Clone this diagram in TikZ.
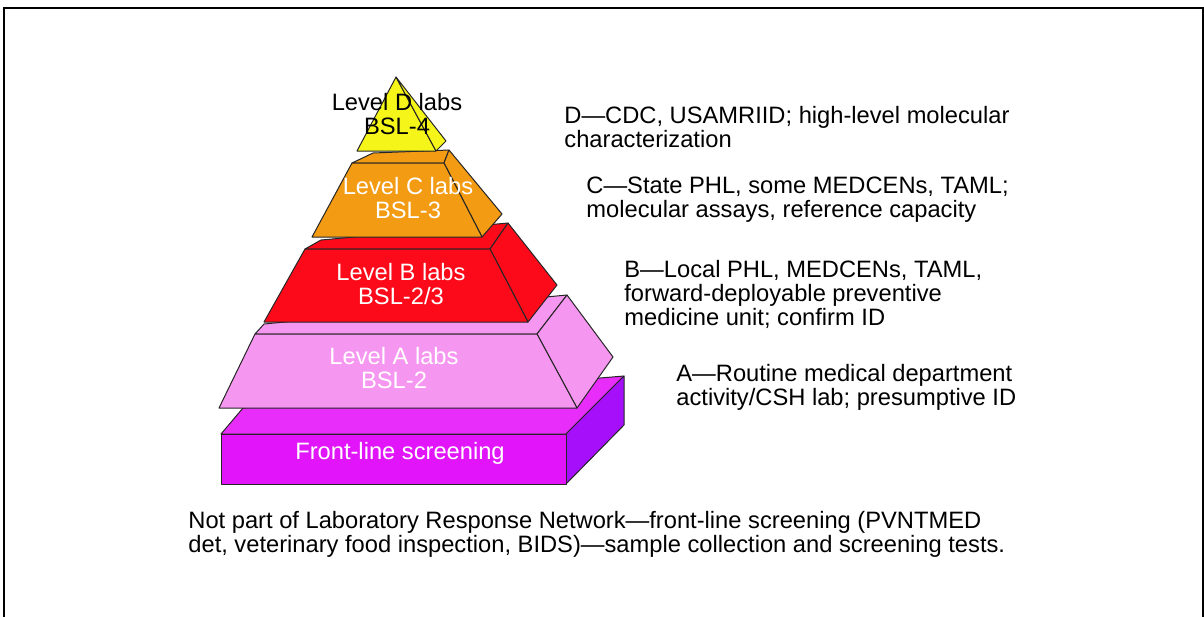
\documentclass[tikz,border=0pt]{standalone}
\usepackage{fontspec}
\setmainfont{Liberation Sans}
\definecolor{lvlD}{RGB}{245,245,25}
\definecolor{lvlC}{RGB}{243,155,18}
\definecolor{lvlB}{RGB}{252,10,25}
\definecolor{lvlA}{RGB}{245,150,240}
\definecolor{baseFront}{RGB}{225,20,250}
\definecolor{baseTop}{RGB}{232,45,250}
\definecolor{baseSide}{RGB}{165,15,250}
\begin{document}
\begin{tikzpicture}[x=0.5pt,y=-0.5pt,
		face/.style={draw=black!85,line width=0.5pt,line join=round},
		lvl/.style={align=center,text=white,inner sep=0pt,font=\fontsize{11.85}{12}\selectfont},
		note/.style={align=left,anchor=west,inner sep=0pt,font=\fontsize{11.85}{12}\selectfont}]
		\useasboundingbox (0,0) rectangle (1204,616);
		\draw[line width=1pt] (4,620) -- (4,8) -- (1203,8) -- (1203,620);
		% front-line screening block
		\draw[face,fill=baseTop] (221,434) -- (243,408) -- (624,376) -- (566,434) -- cycle;
		\draw[face,fill=baseSide] (566,434) -- (624,376) -- (624,425) -- (566,484) -- cycle;
		\draw[face,fill=baseFront] (221,434) rectangle (566,484);
		% level A
		\draw[face,fill=lvlA] (255,334) -- (264,324) -- (567,295) -- (537,334) -- cycle;
		\draw[face,fill=lvlA] (537,334) -- (567,295) -- (613,357) -- (577,408) -- cycle;
		\draw[face,fill=lvlA] (255,334) -- (537,334) -- (577,408) -- (219,408) -- cycle;
		% level B
		\draw[face,fill=lvlB] (305,249) -- (321,240) -- (508,223) -- (490,249) -- cycle;
		\draw[face,fill=lvlB] (490,249) -- (508,223) -- (557,285) -- (528,322) -- cycle;
		\draw[face,fill=lvlB] (305,249) -- (490,249) -- (528,322) -- (264,322) -- cycle;
		% level C
		\draw[face,fill=lvlC] (352,163) -- (373,153) -- (449,150) -- (444,163) -- cycle;
		\draw[face,fill=lvlC] (444,163) -- (449,150) -- (502,214) -- (482,237) -- cycle;
		\draw[face,fill=lvlC] (352,163) -- (444,163) -- (482,237) -- (312,237) -- cycle;
		% level D
		\draw[face,fill=lvlD] (396,77) -- (357,151) -- (436,151) -- cycle;
		\draw[face,fill=lvlD] (396,77) -- (436,151) -- (446,141) -- cycle;

		\node[lvl,text=black] (labD) at (397,114) {Level D labs\\BSL-4};
		\node[lvl] (labC) at (408,198) {Level C labs\\BSL-3};
		\node[lvl] (labB) at (401,284) {Level B labs\\BSL-2/3};
		\node[lvl] (labA) at (394,368) {Level A labs\\BSL-2};
		\node[lvl] (labF) at (400,453) {Front-line screening};

		\node[note] (noteD) at (564,127) {D—CDC, USAMRIID; high-level molecular\\characterization};
		\node[note] (noteC) at (586,200) {C—State PHL, some MEDCENs, TAML;\\molecular assays, reference capacity};
		\node[note] (noteB) at (624,294) {B—Local PHL, MEDCENs, TAML,\\forward-deployable preventive\\medicine unit; confirm ID};
		\node[note] (noteA) at (676,387) {A—Routine medical department\\activity/CSH lab; presumptive ID};
		\node[note] (noteF) at (188,534) {Not part of Laboratory Response Network—front-line screening (PVNTMED\\det, veterinary food inspection, BIDS)—sample collection and screening tests.};
	\end{tikzpicture}
\end{document}
